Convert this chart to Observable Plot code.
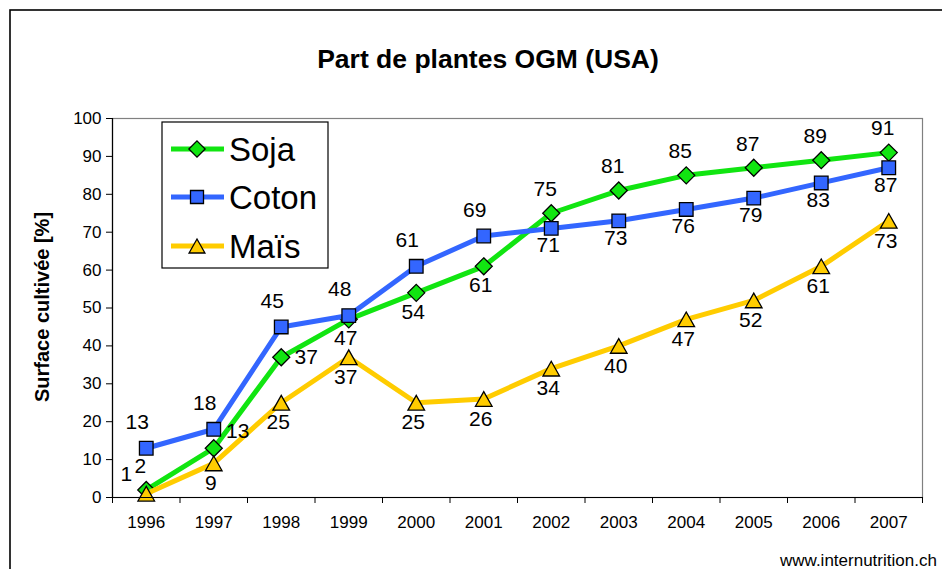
<!DOCTYPE html>
<html>
<head>
<meta charset="utf-8">
<script src="https://cdn.jsdelivr.net/npm/d3@7"></script>
<script src="https://cdn.jsdelivr.net/npm/@observablehq/plot@0.6"></script>
<style>
  html, body { margin: 0; padding: 0; background: white; overflow: hidden; }
  #chart { width: 942px; height: 569px; }
</style>
</head>
<body>
<div id="chart"></div>
<script>
// ---- data ----
const years = [1996, 1997, 1998, 1999, 2000, 2001, 2002, 2003, 2004, 2005, 2006, 2007];
const soja  = [2, 13, 37, 47, 54, 61, 75, 81, 85, 87, 89, 91];
const coton = [13, 18, 45, 48, 61, 69, 71, 73, 76, 79, 83, 87];
const mais  = [1, 9, 25, 37, 25, 26, 34, 40, 47, 52, 61, 73];
// label placement codes: a = above, b = below, r = right, ar = above-right, l = upper-left
const sojaPos  = ["a", "ar", "r", "b", "b", "b", "a", "a", "a", "a", "a", "a"];
const cotonPos = ["a", "a", "a", "a", "a", "a", "b", "b", "b", "b", "b", "b"];
const maisPos  = ["l", "b", "b", "b", "b", "b", "b", "b", "b", "b", "b", "b"];
const seriesNames = ["Soja", "Coton", "Maïs"];
const yTicks = [0, 10, 20, 30, 40, 50, 60, 70, 80, 90, 100];
const title = "Part de plantes OGM (USA)";
const yTitle = "Surface cultivée [%]";
const footer = "www.internutrition.ch";

// ---- symbols ----
const diamond = {draw(ctx, size) { const r = Math.sqrt(size / Math.PI) * 1.25; ctx.moveTo(0, -r); ctx.lineTo(r, 0); ctx.lineTo(0, r); ctx.lineTo(-r, 0); ctx.closePath(); }};
const square = {draw(ctx, size) { const r = Math.sqrt(size / Math.PI); ctx.moveTo(-r, -r); ctx.lineTo(r, -r); ctx.lineTo(r, r); ctx.lineTo(-r, r); ctx.closePath(); }};
const triangle = {draw(ctx, size) { const r = Math.sqrt(size / Math.PI); const b = r * 1.22, h = r * 1.08; ctx.moveTo(0, -h); ctx.lineTo(b, h); ctx.lineTo(-b, h); ctx.closePath(); }};

const series = [
  {name: seriesNames[0], values: soja, pos: sojaPos, color: "#11e511", symbol: diamond,
   off: {a: [-6, -24], ar: [24, -17], r: [25, 0], b: [-3, 19]}},
  {name: seriesNames[1], values: coton, pos: cotonPos, color: "#3366ff", symbol: square,
   off: {a: [-9, -26], b: [-3, 17]}},
  {name: seriesNames[2], values: mais, pos: maisPos, color: "#ffcc00", symbol: triangle,
   off: {l: [-20, -19], b: [-3, 20]}}
];

const FONT = "'Liberation Sans', Arial, Helvetica, sans-serif";
const marks = [];
marks.push(Plot.frame({stroke: "#808080", strokeWidth: 1.2}));
for (const s of series) {
  const rows = years.map((y, i) => ({year: y, value: s.values[i], pos: s.pos[i]}));
  marks.push(Plot.line(rows, {x: "year", y: "value", stroke: s.color, strokeWidth: 5}));
  marks.push(Plot.dot(rows, {x: "year", y: "value", symbol: s.symbol, r: 6.8, fill: s.color, stroke: "black", strokeWidth: 1.3}));
  s.rows = rows;
}
for (const s of series) {
  for (const code of Object.keys(s.off)) {
    const [dx, dy] = s.off[code];
    marks.push(Plot.text(s.rows.filter(d => d.pos === code), {
      x: "year", y: "value", text: d => String(d.value), dx, dy,
      fontSize: 21, fill: "black"
    }));
  }
}
const boundaries = d3.range(years[0] - 0.5, years[years.length - 1] + 1, 1);
marks.push(Plot.axisY({ticks: yTicks, tickSize: 6, tickPadding: 5, fontSize: 17, label: null}));
marks.push(Plot.axisX({ticks: boundaries, tickSize: 6, tickFormat: () => "", label: null}));
marks.push(Plot.axisX({ticks: years, tickSize: 0, tickPadding: 18, fontSize: 17, tickFormat: d => String(d), label: null}));
marks.push(Plot.ruleX([years[0] - 0.5], {stroke: "black", strokeWidth: 1.2}));
marks.push(Plot.ruleY([0], {stroke: "black", strokeWidth: 1.2}));

const svg = Plot.plot({
  width: 942,
  height: 569,
  marginLeft: 112,
  marginRight: 20,
  marginTop: 118,
  marginBottom: 72,
  style: {fontFamily: FONT, fontSize: "17px", color: "black", background: "white"},
  x: {type: "linear", domain: [years[0] - 0.5, years[years.length - 1] + 0.5]},
  y: {domain: [0, 100]},
  marks
});

const g = d3.select(svg);
// outer border
g.append("rect").attr("x", 10).attr("y", 10).attr("width", 960).attr("height", 600)
  .attr("fill", "none").attr("stroke", "black").attr("stroke-width", 1.6);
// title
g.append("text").attr("x", 488).attr("y", 68).attr("text-anchor", "middle")
  .attr("font-family", FONT).attr("font-weight", "bold").attr("font-size", 26.5).attr("fill", "black").text(title);
// y title
g.append("text").attr("transform", "translate(49,307) rotate(-90)").attr("text-anchor", "middle")
  .attr("font-family", FONT).attr("font-weight", "bold").attr("font-size", 20).attr("fill", "black").text(yTitle);
// footer
g.append("text").attr("x", 780).attr("y", 566).attr("text-anchor", "start").attr("font-family", FONT).attr("font-size", 17)
  .attr("fill", "black").text(footer);
// legend
const lg = g.append("g").attr("text-anchor", "start");
lg.append("rect").attr("x", 162).attr("y", 122).attr("width", 166).attr("height", 146)
  .attr("fill", "white").attr("stroke", "black").attr("stroke-width", 1.2);
const rowsY = [149, 197, 246];
series.forEach((s, i) => {
  const y = rowsY[i];
  lg.append("line").attr("x1", 171).attr("x2", 224).attr("y1", y).attr("y2", y)
    .attr("stroke", s.color).attr("stroke-width", 5);
  lg.append("path").attr("transform", `translate(197,${y})`)
    .attr("d", d3.symbol(s.symbol, 6.5 * 6.5 * Math.PI)())
    .attr("fill", s.color).attr("stroke", "black").attr("stroke-width", 1.3);
  lg.append("text").attr("x", 229).attr("y", y).attr("dy", "0.35em").attr("text-anchor", "start")
    .attr("font-family", FONT).attr("font-size", 33).attr("fill", "black").text(s.name);
});

document.getElementById("chart").appendChild(svg);
</script>
</body>
</html>
